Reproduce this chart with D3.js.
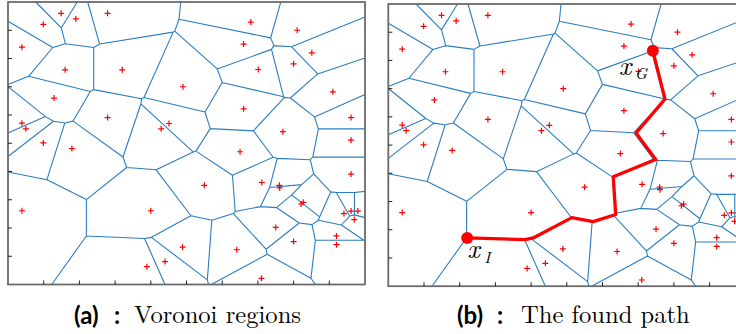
<!DOCTYPE html>
<html>
<head>
<meta charset="utf-8">
<script src="https://cdn.jsdelivr.net/npm/d3@7"></script>
<style>
  html, body { margin: 0; padding: 0; background: #fff; }
  svg { display: block; }
</style>
</head>
<body>
<svg id="fig" width="736" height="334"></svg>
<script>
// Sample sites (generator points of the Voronoi diagram), domain [0,10] x [0,10]
const siteX = [1.49, 1.90, 0.99, 2.79, 0.39, 1.60, 3.20, 4.90, 1.29, 2.79,
               0.39, 0.50, 4.51, 4.29, 0.99, 6.80, 8.10, 6.60, 8.51, 8.00,
               7.01, 9.10, 6.60, 9.61, 7.70, 9.61, 1.79, 0.39, 4.00, 4.89,
               4.40, 3.89, 6.50, 9.61, 5.50, 7.11, 7.60, 7.61, 8.27, 8.21,
               9.41, 9.61, 9.80, 9.70, 7.50, 9.20, 9.20, 8.00, 6.41, 7.10];
const siteY = [9.60, 9.40, 9.21, 9.60, 8.40, 7.60, 7.60, 7.00, 6.60, 5.91,
               5.71, 5.51, 5.70, 5.51, 5.01, 9.29, 9.00, 8.51, 8.20, 7.81,
               7.61, 6.82, 6.22, 5.91, 5.41, 5.11, 4.81, 2.61, 2.61, 1.32,
               0.81, 0.63, 4.70, 3.91, 3.51, 3.61, 3.51, 3.42, 2.91, 2.85,
               2.51, 2.60, 2.60, 2.30, 2.02, 1.72, 1.41, 1.52, 1.23, 0.22];

// Path found along the Voronoi edges, from x_I to x_G
const pathX = [2.21, 3.83, 4.06, 5.14, 5.74, 6.37, 6.30, 7.49, 6.94, 7.75, 7.41];
const pathY = [1.71, 1.65, 1.71, 2.43, 2.29, 2.54, 3.88, 4.49, 5.43, 6.63, 8.34];

// Axis ticks (unlabelled)
const tickValues = [1, 2, 3, 4, 5, 6, 7, 8, 9];

// Panel captions
const captionTags = ["(a)", "(b)"];
const captionTexts = ["Voronoi regions", "The found path"];

const SERIF = '"Latin Modern Roman", "CMU Serif", "Liberation Serif", serif';
const SANS = 'Lato, "Open Sans", "DejaVu Sans", sans-serif';

const svg = d3.select("#fig");
const sites = siteX.map((x, i) => [x, siteY[i]]);
const delaunay = d3.Delaunay.from(sites);
const voronoi = delaunay.voronoi([0, 0, 10, 10]);

const panels = [
  { x0: 8,     x1: 365,   y0: 284.5, y1: 2,  capX: 74,  colonX: 114, textX: 134 },
  { x0: 388.3, x1: 745.3, y0: 286.2, y1: 4,  capX: 457, colonX: 497, textX: 521 }
];

const edgeColor = "#2a7dc0";
const red = "#ff0000";

panels.forEach((p, k) => {
  const xs = d3.scaleLinear().domain([0, 10]).range([p.x0, p.x1]);
  const ys = d3.scaleLinear().domain([0, 10]).range([p.y0, p.y1]);
  const g = svg.append("g");

  // Voronoi edges, drawn in data space through the scales
  const pth = d3.path();
  const ctx = {
    moveTo: (x, y) => pth.moveTo(xs(x), ys(y)),
    lineTo: (x, y) => pth.lineTo(xs(x), ys(y)),
    closePath: () => pth.closePath()
  };
  voronoi.render(ctx);
  g.append("path")
    .attr("d", pth.toString())
    .attr("fill", "none")
    .attr("stroke", edgeColor)
    .attr("stroke-width", 1.1);

  // Site markers
  g.selectAll("path.site")
    .data(sites)
    .join("path")
    .attr("class", "site")
    .attr("d", d => `M${xs(d[0]) - 3},${ys(d[1])}h6M${xs(d[0])},${ys(d[1]) - 3}v6`)
    .attr("stroke", red)
    .attr("stroke-width", 1.2)
    .attr("fill", "none");

  // Frame
  g.append("rect")
    .attr("x", p.x0).attr("y", p.y1)
    .attr("width", p.x1 - p.x0).attr("height", p.y0 - p.y1)
    .attr("fill", "none")
    .attr("stroke", "#6b6b6b")
    .attr("stroke-width", 1.8);

  // Inward ticks on left and bottom axes
  g.selectAll("line.ty").data(tickValues).join("line")
    .attr("x1", p.x0).attr("x2", p.x0 + 4)
    .attr("y1", d => ys(d)).attr("y2", d => ys(d))
    .attr("stroke", "#222").attr("stroke-width", 1);
  g.selectAll("line.tx").data(tickValues).join("line")
    .attr("y1", p.y0).attr("y2", p.y0 - 4)
    .attr("x1", d => xs(d)).attr("x2", d => xs(d))
    .attr("stroke", "#222").attr("stroke-width", 1);

  if (k === 1) {
    const line = d3.line().x((d, i) => xs(pathX[i])).y((d, i) => ys(pathY[i]));
    g.append("path")
      .attr("d", line(pathX))
      .attr("fill", "none")
      .attr("stroke", red)
      .attr("stroke-width", 3.3)
      .attr("stroke-linejoin", "round");
    const ends = [0, pathX.length - 1];
    g.selectAll("circle.end").data(ends).join("circle")
      .attr("cx", i => xs(pathX[i]))
      .attr("cy", i => ys(pathY[i]))
      .attr("r", 6)
      .attr("fill", red);

    // Endpoint labels
    const labels = [
      { i: 0, sub: "I", dx: 0, dy: 20, sdx: 17, sdy: 25 },
      { i: pathX.length - 1, sub: "G", dx: -34, dy: 24, sdx: -18, sdy: 28 }
    ];
    labels.forEach(l => {
      const cx = xs(pathX[l.i]), cy = ys(pathY[l.i]);
      g.append("text")
        .style("font-family", SERIF)
        .style("font-style", "italic")
        .style("font-size", "27px")
        .attr("x", cx + l.dx).attr("y", cy + l.dy)
        .text("x");
      g.append("text")
        .style("font-family", SERIF)
        .style("font-style", "italic")
        .style("font-size", "16px")
        .attr("x", cx + l.sdx).attr("y", cy + l.sdy)
        .text(l.sub);
    });
  }

  // Caption
  svg.append("text")
    .style("font-family", SANS).style("font-weight", "bold").style("font-size", "24px")
    .attr("x", p.capX).attr("y", 324)
    .text(captionTags[k]);
  svg.append("text")
    .style("font-family", SANS).style("font-weight", "bold").style("font-size", "24px")
    .attr("x", p.colonX).attr("y", 324)
    .text(":");
  svg.append("text")
    .style("font-family", SERIF).style("font-size", "24.6px")
    .attr("x", p.textX).attr("y", 323)
    .text(captionTexts[k]);
});
</script>
</body>
</html>
